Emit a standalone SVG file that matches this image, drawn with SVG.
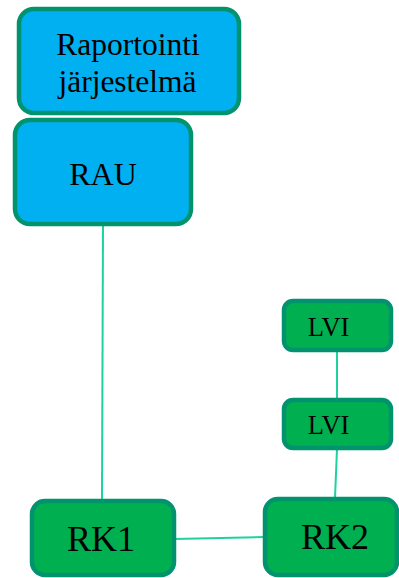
<svg xmlns="http://www.w3.org/2000/svg" width="399" height="578" viewBox="0 0 399 578">
  <style>
    .blue { fill: #00B0F0; stroke: #00936E; stroke-width: 4.5; }
    .green { fill: #00B050; stroke: #00936E; stroke-width: 4.5; }
    .lbl { font-family: "Liberation Serif", "Times New Roman", serif; fill: #000; text-anchor: middle; }
    .link { stroke: #1ED2A0; stroke-width: 2; fill: none; }
  </style>
  <rect width="399" height="578" fill="#fff"/>
  <g id="connectors">
    <line class="link" x1="103" y1="226" x2="102" y2="500"/>
    <line class="link" x1="337" y1="351" x2="337" y2="400"/>
    <line class="link" x1="337" y1="449" x2="335" y2="498"/>
    <line class="link" x1="174" y1="539" x2="264" y2="537"/>
  </g>
  <g id="raportointi">
    <rect class="blue" x="19" y="9" width="220" height="104" rx="15"/>
    <text class="lbl" x="128" y="55" font-size="31.5">Raportointi</text>
    <text class="lbl" x="127.5" y="92" font-size="31.5">järjestelmä</text>
  </g>
  <g id="rau">
    <rect class="blue" x="15" y="120" width="176" height="104" rx="15"/>
    <text class="lbl" x="103" y="185" font-size="32">RAU</text>
  </g>
  <g id="lvi1">
    <rect class="green" x="284" y="301" width="107" height="49" rx="9"/>
    <text class="lbl" x="328.5" y="336" font-size="26.5">LVI</text>
  </g>
  <g id="lvi2">
    <rect class="green" x="284" y="400" width="107" height="48" rx="9"/>
    <text class="lbl" x="328.5" y="434" font-size="26.5">LVI</text>
  </g>
  <g id="rk1">
    <rect class="green" x="32" y="501" width="142" height="74" rx="13"/>
    <text class="lbl" x="101" y="551" font-size="36">RK1</text>
  </g>
  <g id="rk2">
    <rect class="green" x="265" y="499" width="132" height="76" rx="13"/>
    <text class="lbl" x="335" y="549" font-size="36">RK2</text>
  </g>
</svg>
